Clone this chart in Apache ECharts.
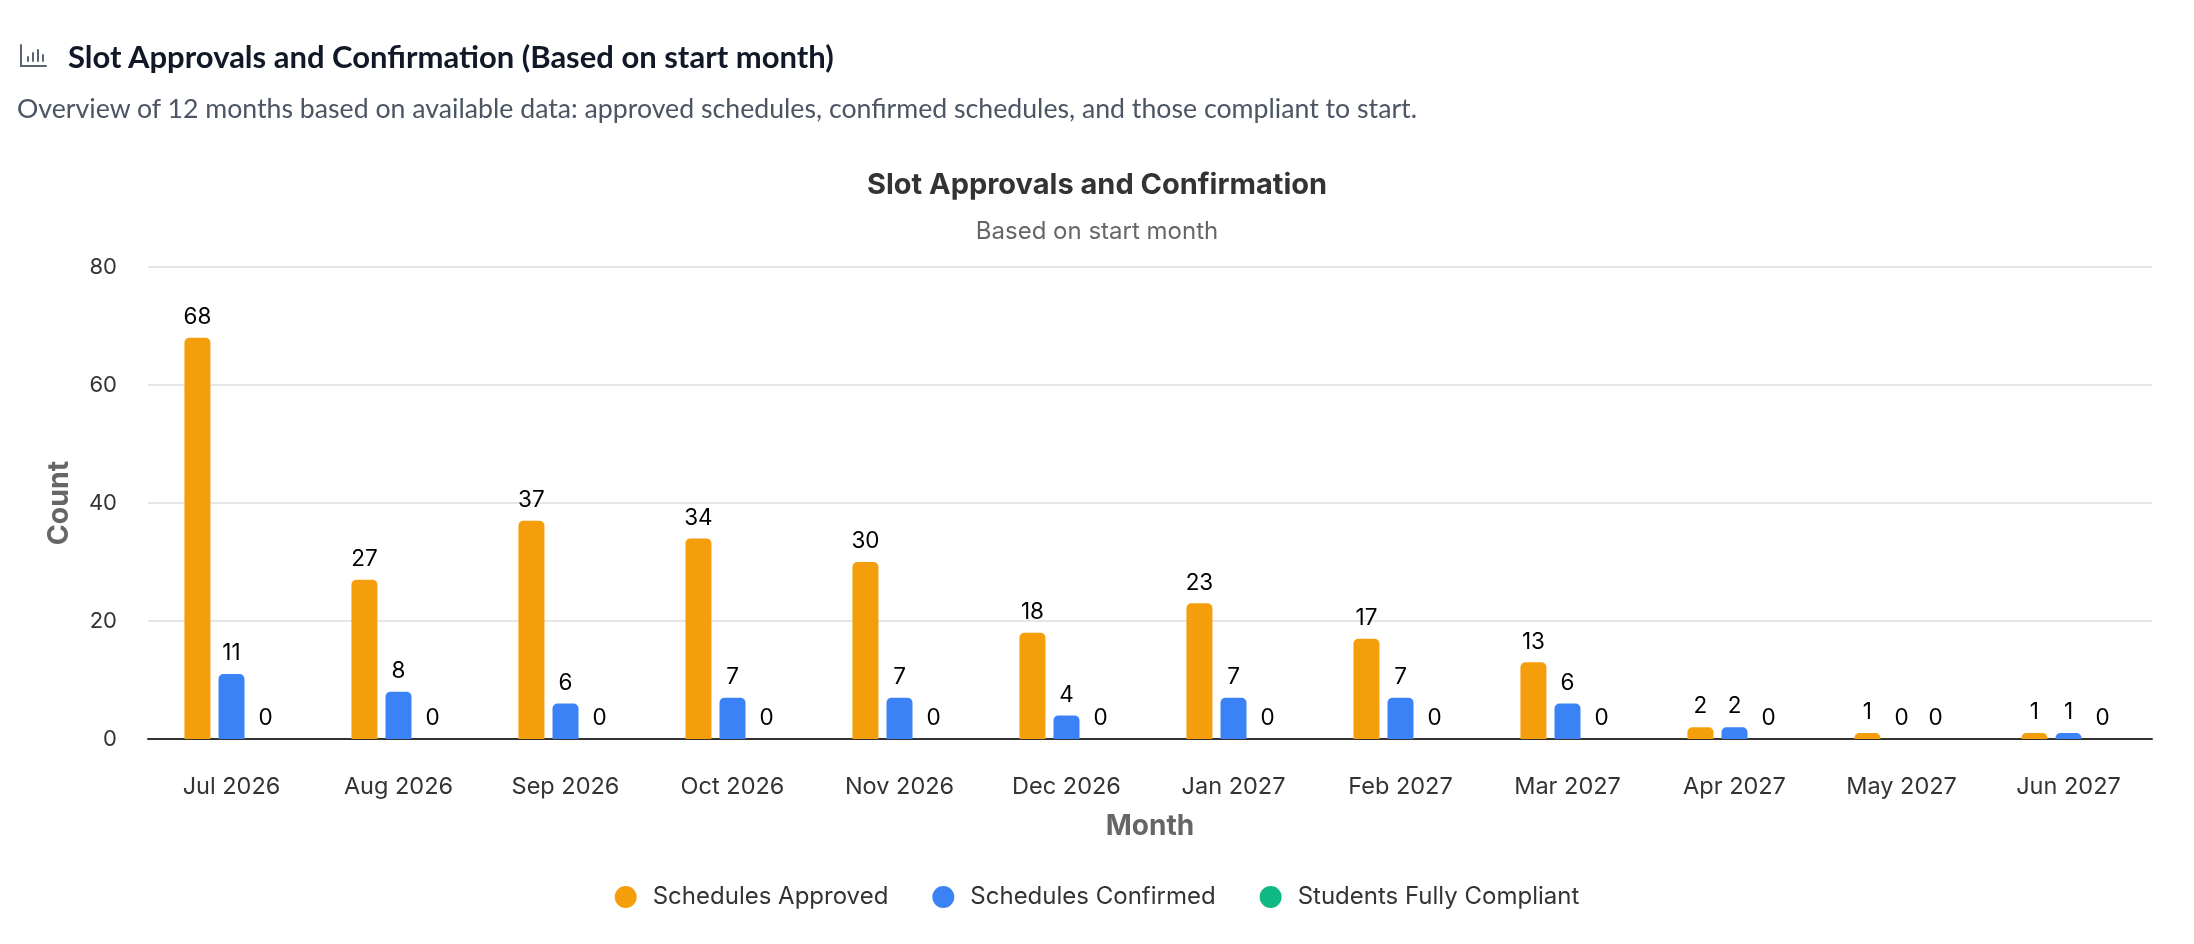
<!DOCTYPE html>
<html>
<head>
<meta charset="utf-8">
<script src="https://cdn.jsdelivr.net/npm/echarts@6/dist/echarts.min.js"></script>
<style>
  html, body { margin: 0; padding: 0; background: #fff; }
  #chart { position: absolute; left: 0; top: 0; width: 2194px; height: 944px; }
  .head { position: absolute; left: 19px; top: 40px; display: flex; align-items: center; }
  .head h2 { margin: 0 0 0 21px; font-family: Lato, "Noto Sans", sans-serif; font-weight: 700; font-size: 31px; color: #111827; line-height: 32px; }
  .desc { position: absolute; left: 17px; top: 92px; margin: 0; font-family: Lato, "Noto Sans", sans-serif; font-size: 26.7px; color: #4b5563; line-height: 32px; }
</style>
</head>
<body>
<div id="chart"></div>
<div class="head">
  <svg width="28" height="26" viewBox="0 0 28 26" fill="none" stroke="#5b6475" stroke-width="2" stroke-linecap="round">
    <path d="M2 2 V23 H27"/>
    <path d="M9 18 V14"/>
    <path d="M14 18 V10"/>
    <path d="M19 18 V7"/>
    <path d="M24 18 V12"/>
  </svg>
  <h2>Slot Approvals and Confirmation (Based on start month)</h2>
</div>
<p class="desc">Overview of 12 months based on available data: approved schedules, confirmed schedules, and those compliant to start.</p>
<script>
const months = ["Jul 2026", "Aug 2026", "Sep 2026", "Oct 2026", "Nov 2026", "Dec 2026",
  "Jan 2027", "Feb 2027", "Mar 2027", "Apr 2027", "May 2027", "Jun 2027"];
const approved = [68, 27, 37, 34, 30, 18, 23, 17, 13, 2, 1, 1];
const confirmed = [11, 8, 6, 7, 7, 4, 7, 7, 6, 2, 0, 1];
const compliant = [0, 0, 0, 0, 0, 0, 0, 0, 0, 0, 0, 0];

const chart = echarts.init(document.getElementById("chart"));
const font = "Inter, Roboto, sans-serif";

function barSeries(name, data, color) {
  return {
    name: name,
    type: "bar",
    data: data,
    barWidth: 26,
    barGap: "31%",
    itemStyle: { color: color, borderRadius: [5, 5, 0, 0] },
    label: { show: true, position: "top", distance: 9, color: "#000", fontSize: 22.5, fontFamily: font },
  };
}

chart.setOption({
  textStyle: { fontFamily: font },
  title: {
    text: "Slot Approvals and Confirmation",
    subtext: "Based on start month",
    left: "center",
    top: 166,
    itemGap: 20,
    textStyle: { fontSize: 29, fontWeight: "bold", color: "#333", fontFamily: font },
    subtextStyle: { fontSize: 24, color: "#666", fontFamily: font },
  },
  legend: {
    bottom: 30,
    left: "center",
    icon: "circle",
    itemWidth: 22,
    itemHeight: 22,
    itemGap: 44,
    textStyle: { fontSize: 24, color: "#333", fontFamily: font, padding: [0, 0, 0, 11] },
  },
  grid: { left: 148, right: 42, top: 267, bottom: 205 },
  xAxis: {
    type: "category",
    data: months,
    name: "Month",
    nameLocation: "middle",
    nameGap: 74,
    nameTextStyle: { fontSize: 28, fontWeight: "bold", color: "#666" },
    axisLine: { lineStyle: { color: "#333", width: 2 } },
    axisTick: { show: false },
    axisLabel: { fontSize: 23.5, color: "#333", margin: 36 },
  },
  yAxis: {
    type: "value",
    min: 0,
    max: 80,
    interval: 20,
    name: "Count",
    nameLocation: "middle",
    nameGap: 74,
    nameTextStyle: { fontSize: 28.5, fontWeight: "bold", color: "#666" },
    axisLabel: { fontSize: 22, color: "#333", margin: 31 },
    splitLine: { lineStyle: { color: "#e6e6e6", width: 2 } },
  },
  series: [
    barSeries("Schedules Approved", approved, "#f59e0b"),
    barSeries("Schedules Confirmed", confirmed, "#3b82f6"),
    barSeries("Students Fully Compliant", compliant, "#10b981"),
  ],
});

window.addEventListener("resize", () => chart.resize());
</script>
</body>
</html>
